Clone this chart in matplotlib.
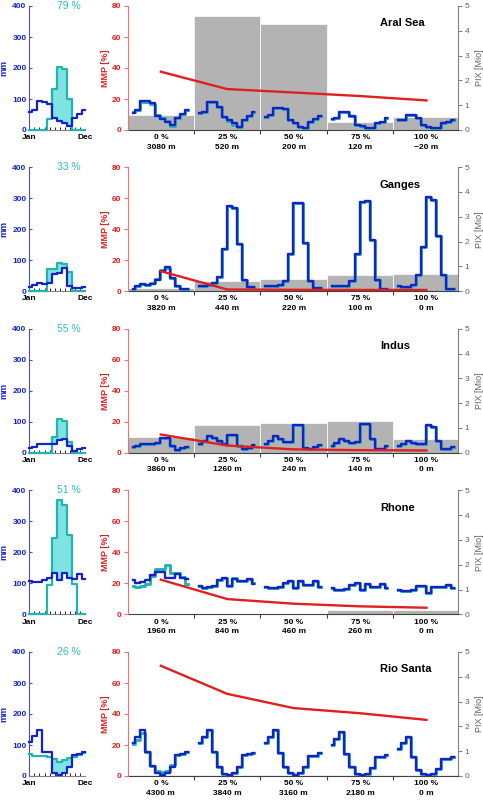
import matplotlib
matplotlib.use("Agg")
import matplotlib.pyplot as plt
import numpy as np

plt.rcParams['font.family'] = ['Liberation Sans', 'DejaVu Sans']

# ---- data ----
basins = ['Aral Sea', 'Ganges', 'Indus', 'Rhone', 'Rio Santa']
shares = ['79 %', '33 %', '55 %', '51 %', '26 %']
pct_labels = ['0 %', '25 %', '50 %', '75 %', '100 %']
elev_labels = [
    ['3080 m', '520 m', '200 m', '120 m', '\u221220 m'],
    ['3820 m', '440 m', '220 m', '100 m', '0 m'],
    ['3860 m', '1260 m', '240 m', '140 m', '0 m'],
    ['1960 m', '840 m', '460 m', '260 m', '0 m'],
    ['4300 m', '3840 m', '3160 m', '2180 m', '0 m'],
]

# basin mean monthly values [mm] (blue / cyan)
aral_p = [57, 64, 93, 90, 84, 38, 30, 24, 14, 40, 52, 64]
aral_m = [0, 0, 0, 0, 36, 133, 203, 198, 100, 0, 0, 0]
ganges_p = [12, 20, 25, 22, 28, 55, 58, 76, 18, 10, 10, 12]
ganges_m = [0, 0, 0, 0, 73, 73, 91, 87, 62, 0, 0, 0]
indus_p = [16, 20, 28, 28, 28, 28, 42, 46, 22, 7, 11, 16]
indus_m = [0, 0, 0, 0, 0, 52, 109, 104, 36, 0, 0, 0]
rhone_p = [109, 103, 106, 111, 119, 132, 111, 134, 117, 113, 130, 114]
rhone_m = [0, 0, 0, 0, 95, 248, 368, 352, 256, 98, 0, 0]
rio_p = [110, 129, 148, 78, 78, 9, 3, 9, 30, 68, 71, 76]
rio_m = [72, 66, 66, 66, 60, 55, 46, 52, 58, 62, 68, 74]

# MMP [%] per elevation quantile (red) and PIX [Mio] (grey bars)
aral_mmp = [37.6, 26.4, 24.2, 21.9, 19.1]
aral_pix = [0.6, 4.6, 4.27, 0.32, 0.52]
ganges_mmp = [12.9, 1.1, 0.9, 0.8, 0.8]
ganges_pix = [0.11, 0.42, 0.48, 0.65, 0.71]
indus_mmp = [11.8, 4.7, 2.2, 1.7, 1.5]
indus_pix = [0.63, 1.14, 1.22, 1.3, 0.56]
rhone_mmp = [22.4, 9.9, 6.9, 5.2, 4.3]
rhone_pix = [0.02, 0.02, 0.02, 0.16, 0.18]
rio_mmp = [71.1, 53.0, 43.8, 40.5, 36.2]
rio_pix = [0.05, 0.05, 0.05, 0.05, 0.05]

# monthly curves inside each elevation quantile (in MMP axis units)
aral_bins_p = [
    [11.0, 13.0, 18.8, 18.6, 17.2, 9.0, 7.2, 5.2, 3.0, 7.5, 10.2, 12.9],
    [11.2, 11.8, 17.8, 17.8, 15.0, 8.6, 6.5, 4.3, 2.2, 6.5, 9.0, 11.4],
    [8.6, 9.7, 14.0, 14.0, 13.3, 6.5, 4.3, 2.2, 1.5, 5.4, 6.9, 9.0],
    [7.2, 8.0, 11.8, 11.8, 9.0, 3.5, 2.5, 1.5, 1.5, 4.3, 5.4, 7.5],
    [6.2, 6.5, 9.7, 9.7, 7.5, 3.2, 2.0, 1.5, 1.5, 4.3, 5.4, 6.5],
]
aral_bins_m = [
    [11.6, 13.0, 18.3, 18.0, 16.5, 9.8, 7.8, 5.8, 2.6, 7.5, 10.2, 12.9],
    [11.2, 11.8, 17.8, 17.8, 15.0, 8.6, 5.5, 3.5, 1.8, 6.5, 9.0, 11.4],
    aral_bins_p[2], aral_bins_p[3], aral_bins_p[4],
]
ganges_bins_p = [
    [1.7, 3.5, 4.5, 3.9, 4.5, 7.0, 13.0, 15.3, 8.2, 3.2, 1.7, 1.7],
    [3.2, 3.6, 4.0, 5.0, 9.3, 27.0, 55.0, 53.4, 30.4, 7.5, 2.4, 2.8],
    [3.4, 3.4, 3.6, 3.8, 6.5, 23.7, 57.0, 57.0, 31.0, 6.7, 2.2, 2.2],
    [3.4, 3.4, 3.2, 3.2, 6.5, 23.7, 57.6, 58.4, 33.0, 7.0, 1.7, 1.7],
    [3.4, 3.0, 3.0, 4.3, 10.3, 28.7, 61.0, 58.6, 35.6, 10.3, 1.7, 1.7],
]
ganges_bins_m = [
    [1.7, 3.5, 4.5, 4.3, 5.0, 8.0, 13.5, 15.0, 8.2, 3.2, 1.7, 1.7],
    ganges_bins_p[1], ganges_bins_p[2], ganges_bins_p[3], ganges_bins_p[4],
]
indus_bins_p = [
    [3.7, 4.7, 6.0, 6.0, 6.0, 6.2, 9.7, 9.7, 4.3, 1.7, 3.2, 3.9],
    [5.4, 7.5, 10.8, 9.7, 7.5, 6.0, 11.8, 11.8, 4.7, 2.2, 3.2, 5.0],
    [5.8, 7.5, 10.8, 9.0, 6.7, 6.7, 17.8, 17.8, 3.2, 2.6, 3.7, 5.0],
    [4.7, 6.5, 9.0, 7.5, 6.5, 6.9, 18.9, 18.7, 9.0, 2.6, 2.6, 4.3],
    [4.3, 5.4, 7.5, 6.5, 5.4, 6.0, 17.8, 16.8, 7.5, 2.6, 2.6, 3.9],
]
indus_bins_m = indus_bins_p
rhone_bins_p = [
    [22.4, 20.2, 20.8, 22.4, 25.4, 27.5, 27.5, 23.4, 23.4, 26.0, 23.4, 23.0],
    [18.5, 17.0, 17.5, 18.5, 22.4, 23.5, 18.5, 22.8, 21.3, 21.3, 23.0, 19.8],
    [17.6, 17.0, 17.0, 17.4, 20.2, 21.7, 17.0, 21.3, 19.1, 19.1, 21.3, 18.0],
    [17.0, 15.9, 15.9, 16.3, 19.1, 20.2, 15.5, 19.8, 18.0, 18.0, 19.8, 17.0],
    [15.9, 15.3, 15.3, 15.9, 18.5, 18.5, 13.8, 18.0, 17.6, 17.6, 19.1, 17.0],
]
rhone_bins_m = [
    [18.5, 18.0, 18.5, 19.5, 24.5, 29.5, 29.5, 32.0, 27.0, 27.0, 24.0, 19.8],
    [18.5, 17.0, 17.5, 18.5, 22.4, 23.5, 18.5, 23.5, 21.3, 21.3, 23.0, 20.5],
    rhone_bins_p[2], rhone_bins_p[3], rhone_bins_p[4],
]
rio_bins_p = [
    [21.6, 25.4, 29.7, 15.7, 6.5, 1.7, 0.6, 1.7, 6.0, 13.6, 14.2, 15.3],
    [21.6, 25.4, 29.7, 15.7, 6.0, 1.3, 0.6, 1.7, 6.0, 13.6, 14.0, 15.0],
    [21.1, 25.0, 29.7, 15.0, 6.0, 1.7, 0.6, 1.7, 6.0, 12.9, 13.1, 14.7],
    [20.0, 23.7, 28.7, 14.0, 5.6, 1.3, 0.6, 1.5, 5.0, 12.5, 12.5, 13.6],
    [17.2, 21.1, 25.4, 12.1, 3.9, 1.1, 0.6, 1.1, 4.3, 10.8, 11.0, 12.1],
]
rio_bins_m = [
    [20.5, 23.5, 27.5, 15.7, 6.5, 3.0, 2.5, 3.0, 7.0, 13.6, 14.2, 15.3],
    rio_bins_p[1], rio_bins_p[2], rio_bins_p[3], rio_bins_p[4],
]

rows = [
    (aral_p, aral_m, aral_mmp, aral_pix, aral_bins_p, aral_bins_m),
    (ganges_p, ganges_m, ganges_mmp, ganges_pix, ganges_bins_p, ganges_bins_m),
    (indus_p, indus_m, indus_mmp, indus_pix, indus_bins_p, indus_bins_m),
    (rhone_p, rhone_m, rhone_mmp, rhone_pix, rhone_bins_p, rhone_bins_m),
    (rio_p, rio_m, rio_mmp, rio_pix, rio_bins_p, rio_bins_m),
]

# ---- styling ----
BLUE = '#1423c8'
CYAN = '#22b5ad'
FILL = '#80e3e3'
RED = '#e01f1f'
GREY = '#b3b3b3'
DARKGREY = '#606060'

months = np.arange(1, 13)
centers = np.arange(5)
month_off = (months - 6.6) / 13.2

fig = plt.figure(figsize=(4.83, 8.0), dpi=100)
bottoms = [0.8375, 0.636, 0.434, 0.232, 0.03]
height = 0.155

for i, (p, m, mmp, pix, bins_p, bins_m) in enumerate(rows):
    b = bottoms[i]

    # left panel: monthly mm
    axL = fig.add_axes([0.0607, b, 0.1153, height])
    p = np.array(p, float)
    m = np.array(m, float)
    axL.fill_between(months, p, np.maximum(p, m), step='mid', color=FILL, lw=0, zorder=2)
    axL.plot(months, m, drawstyle='steps-mid', color=CYAN, lw=1.6, clip_on=False, zorder=3)
    axL.plot(months, p, drawstyle='steps-mid', color=BLUE, lw=1.6, clip_on=False, zorder=4)
    axL.set_xlim(1, 12)
    axL.set_ylim(0, 400)
    axL.set_yticks([0, 100, 200, 300, 400])
    axL.tick_params(axis='y', direction='in', length=2, labelsize=6, labelcolor=BLUE, color='#5050b0', pad=2)
    for t in axL.get_yticklabels():
        t.set_fontweight('bold')
    axL.set_xticks([1, 12])
    axL.set_xticklabels(['Jan', 'Dec'], fontsize=6, fontweight='bold')
    axL.set_xticks(months, minor=True)
    axL.tick_params(axis='x', which='major', length=0, pad=3)
    axL.tick_params(axis='x', which='minor', direction='in', length=2, color='k')
    axL.spines['top'].set_visible(False)
    axL.spines['right'].set_visible(False)
    axL.spines['left'].set_color('#5050b0')
    axL.spines['bottom'].set_color('#808080')
    axL.set_ylabel('mm', color=BLUE, fontsize=6.5, fontweight='bold')
    axL.yaxis.set_label_coords(-0.375, 0.5)
    axL.text(0.707, 1.0, shares[i], transform=axL.transAxes, ha='center', va='center',
             color='#30bfbf', fontsize=7.5)

    # right panel: grey bars on PIX axis, curves on MMP axis
    axR = fig.add_axes([0.2656, b, 0.682, height])
    axM = axR.twinx()
    axR.yaxis.tick_right()
    axR.yaxis.set_label_position('right')
    axM.yaxis.tick_left()
    axM.yaxis.set_label_position('left')

    axR.bar(centers, pix, width=1.0, color=GREY, edgecolor='white', lw=0.5, zorder=1)
    axR.set_ylim(0, 5)
    axR.set_yticks(range(6))
    axR.tick_params(axis='y', direction='out', length=3, labelsize=6, labelcolor=DARKGREY,
                    color='#808080', pad=2)
    axR.set_ylabel('PIX [Mio]', color=DARKGREY, fontsize=6.5)
    axR.yaxis.set_label_coords(1.052, 0.5)

    axR.set_xlim(-0.49, 4.47)
    axR.set_xticks([0.5, 1.5, 2.5, 3.5])
    axR.set_xticklabels([])
    axR.tick_params(axis='x', which='major', direction='out', length=3, color='#404040')
    axR.set_xticks(centers, minor=True)
    axR.set_xticklabels([pl + '\n' + el for pl, el in zip(pct_labels, elev_labels[i])],
                        minor=True, fontsize=6, fontweight='bold', linespacing=1.5)
    axR.tick_params(axis='x', which='minor', length=0, pad=3)

    for k in range(5):
        xs = centers[k] + month_off
        axM.plot(xs, bins_m[k], drawstyle='steps-mid', color=CYAN, lw=2.1, zorder=3)
        axM.plot(xs, bins_p[k], drawstyle='steps-mid', color=BLUE, lw=1.7, zorder=4)
    axM.plot(centers, mmp, color=RED, lw=1.7, zorder=5)
    axM.set_ylim(0, 80)
    axM.set_yticks([0, 20, 40, 60, 80])
    axM.tick_params(axis='y', direction='out', length=3, labelsize=6, labelcolor=RED,
                    color='#f07070', pad=2)
    for t in axM.get_yticklabels():
        t.set_fontweight('bold')
    axM.set_ylabel('MMP [%]', color=RED, fontsize=6.5, fontweight='bold')
    axM.yaxis.set_label_coords(-0.057, 0.5)

    for s in ['top', 'left']:
        axR.spines[s].set_visible(False)
    axR.spines['right'].set_color('#808080')
    axR.spines['bottom'].set_color('#404040')
    for s in ['top', 'right', 'bottom']:
        axM.spines[s].set_visible(False)
    axM.spines['left'].set_color('#f07070')

    axM.text(0.764, 0.86, basins[i], transform=axM.transAxes, ha='left', va='center',
             fontsize=8, fontweight='bold')

fig.savefig('out.png', dpi=100)
